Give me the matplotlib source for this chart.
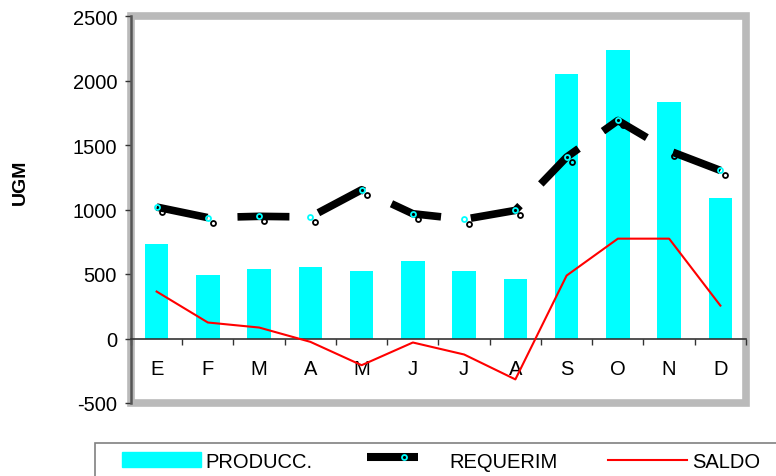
import matplotlib
matplotlib.use('Agg')
import matplotlib.pyplot as plt
from matplotlib.patches import Rectangle
from matplotlib.lines import Line2D
from matplotlib import transforms
import numpy as np

plt.rcParams['font.family'] = ['Liberation Sans', 'DejaVu Sans']
plt.rcParams['lines.scale_dashes'] = False
plt.rcParams['axes.unicode_minus'] = False

meses = ['E', 'F', 'M', 'A', 'M', 'J', 'J', 'A', 'S', 'O', 'N', 'D']
producc = [736, 496, 535, 558, 527, 597, 527, 465, 2047, 2233, 1837, 1093]
requerim = [1019, 937, 947, 942, 1153, 967, 924, 993, 1406, 1690, 1455, 1303]
saldo = [364, 124, 85, -26, -207, -31, -124, -317, 488, 774, 774, 255]
y_ticks = [-500, 0, 500, 1000, 1500, 2000, 2500]

CYAN = '#00FFFF'
RED = '#FF0000'
FS = 14.5

W, H = 776, 477
fig = plt.figure(figsize=(W / 100, H / 100), dpi=100)


def fx(px):
    return px / W


def fy(py):
    return 1 - py / H


ax = fig.add_axes([fx(131), fy(404), (746 - 131) / W, (404 - 17) / H])
x = np.arange(len(meses))

# grey frame around the plot area
ax.add_patch(Rectangle((0, 0), 1, 1, transform=ax.transAxes, fill=False,
                       ec='#bababa', lw=5.5, joinstyle='miter',
                       clip_on=False, zorder=0.5))

ax.bar(x, producc, width=0.455, color=CYAN, zorder=2)
ax.plot(x, saldo, color=RED, lw=1.5, zorder=3)

# requirement series: offset dark rings, dashed thick line, cyan rings
shadow = transforms.offset_copy(ax.transData, fig=fig, x=5, y=-5, units='dots')
ax.plot(x, requerim, ls='none', marker='o', ms=3.6, mfc='none', mec='black',
        mew=1.3, transform=shadow, zorder=4)
ax.plot(x, requerim, color='black', lw=5.5, ls=(0, (37.4, 21.6)),
        dash_capstyle='butt', zorder=5)
ax.plot(x, requerim, ls='none', marker='o', ms=3.6, mfc='none', mec=CYAN,
        mew=1.3, zorder=6)

ax.set_xlim(-0.5, 11.5)
ax.set_ylim(-500, 2500)
ax.spines['top'].set_visible(False)
ax.spines['right'].set_visible(False)
ax.spines['bottom'].set_position(('data', 0))
ax.spines['bottom'].set_color('#333333')
ax.spines['bottom'].set_linewidth(1.2)
ax.spines['left'].set_color('#555555')
ax.spines['left'].set_linewidth(1.8)

ax.set_xticks(x)
ax.set_xticklabels(meses)
ax.tick_params(axis='x', which='major', length=0, pad=15, labelsize=FS)
ax.set_xticks(np.arange(-0.5, 12, 1), minor=True)
ax.tick_params(axis='x', which='minor', length=4, width=1, direction='out',
               color='#333333')
ax.set_yticks(y_ticks)
ax.tick_params(axis='y', length=4, width=1, pad=6, labelsize=FS,
               color='#333333')

fig.text(fx(20), fy(182.5), 'UGM', rotation=90, fontsize=14,
         fontweight='bold', ha='center', va='center')

# legend box along the bottom edge
fig.add_artist(Rectangle((fx(95), fy(520)), (820 - 95) / W, (520 - 444) / H,
                         transform=fig.transFigure, fill=False, ec='#808080',
                         lw=1.2))
fig.add_artist(Rectangle((fx(121.5), fy(468)), 80 / W, 15 / H,
                         transform=fig.transFigure, color=CYAN))
fig.text(fx(205), fy(467.7), 'PRODUCC.', fontsize=FS, va='baseline')
fig.add_artist(Line2D([fx(366.5), fx(418)], [fy(458), fy(458)],
                      transform=fig.transFigure, color='black', lw=5.8,
                      solid_capstyle='butt'))
fig.add_artist(Line2D([fx(403.6)], [fy(458)], transform=fig.transFigure,
                      ls='none', marker='o', ms=3.6, mfc='none', mec=CYAN,
                      mew=1.3))
fig.text(fx(449), fy(467.7), 'REQUERIM', fontsize=FS, va='baseline')
fig.add_artist(Line2D([fx(608), fx(687)], [fy(460.5), fy(460.5)],
                      transform=fig.transFigure, color=RED, lw=1.5))
fig.text(fx(692), fy(467.7), 'SALDO', fontsize=FS, va='baseline')

fig.savefig('out.png', dpi=100)
